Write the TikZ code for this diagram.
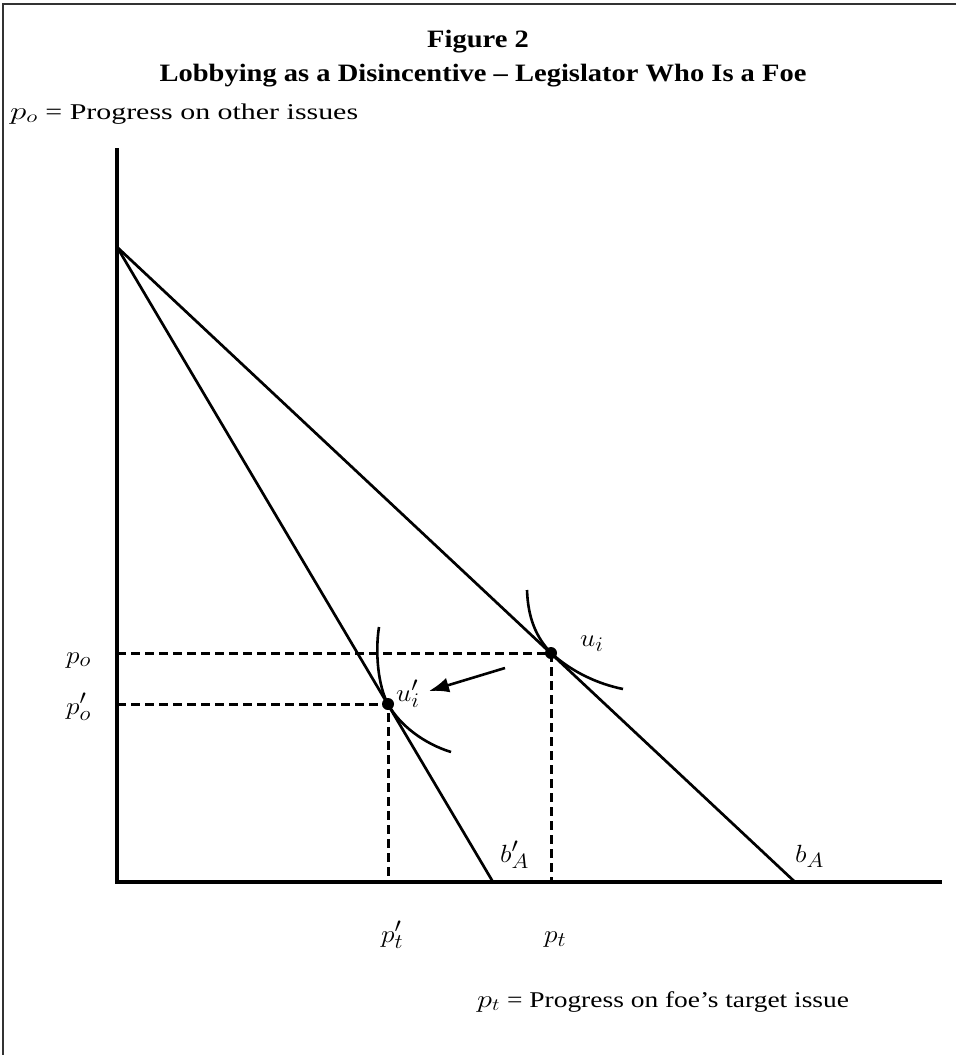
\documentclass[tikz,border=0pt]{standalone}
\usepackage{fontspec}
\setmainfont{Liberation Serif}
\usetikzlibrary{arrows.meta}
\newcommand{\hstretch}[2]{\scalebox{#1}[1]{#2}}
\newcommand{\bigmath}[1]{{\fontsize{27}{30}\selectfont$#1$}}
\tikzset{
  frameline/.style={line width=2.4pt, draw=black!80},
  axisline/.style={line width=3.2pt},
  budget/.style={line width=2.7pt},
  guide/.style={line width=3pt, dash pattern=on 9pt off 5pt},
  indiff/.style={line width=2.6pt},
  dotpt/.style={circle, fill=black, inner sep=0pt, minimum size=12pt},
  lbl/.style={inner sep=0pt, anchor=base west, font=\fontsize{31}{34}\selectfont},
  txt/.style={inner sep=0pt, anchor=base west, font=\fontsize{22.5}{26}\selectfont},
  ttl/.style={inner sep=0pt, anchor=base, font=\fontsize{25}{29}\selectfont\bfseries},
  shiftarrow/.style={line width=2.6pt, -{Latex[length=20pt,width=15pt]}}
}
\begin{document}
\begin{tikzpicture}[x=1pt,y=-1pt]
\useasboundingbox (0,0) rectangle (956,1055);
\fill[white] (0,0) rectangle (956,1055);
\draw[frameline] (956,4) -- (3,4) -- (3,1055);

% titles
\node[ttl] (fig) at (478,47) {\hstretch{1.14}{Figure 2}};
\node[ttl] (sub) at (483,81) {\hstretch{1.14}{Lobbying as a Disincentive – Legislator Who Is a Foe}};
\node[txt] (ylab) at (10,119) {\hstretch{1.33}{\bigmath{p_o} = Progress on other issues}};
\node[txt] (xlab) at (477,1007) {\hstretch{1.22}{\bigmath{p_t} = Progress on foe’s target issue}};

% axes
\coordinate (top) at (117,148);
\coordinate (O) at (117,882);
\coordinate (right) at (942,882);
\draw[axisline] (top) -- (O) -- (right);

% budget lines
\coordinate (A) at (117,247);
\coordinate (bA) at (795,882);
\coordinate (bAp) at (493,882);
\draw[budget] (A) -- (bA);
\draw[budget] (A) -- (bAp);

% tangency points
\coordinate (ui) at (551,653);
\coordinate (uip) at (388,704);
\coordinate (po) at (117,653);
\coordinate (pop) at (117,704);
\coordinate (pt) at (551,882);
\coordinate (ptp) at (388,882);

% guides
\draw[guide] (po) -- (ui) -- (pt);
\draw[guide] (pop) -- (uip) -- (ptp);

% indifference curves
\draw[indiff] (527,590) .. controls (528,618) and (536,637) .. (ui)
              .. controls (572,672) and (598,684) .. (623,689);
\draw[indiff] (379,627) .. controls (375,652) and (378,686) .. (uip)
              .. controls (400,726) and (425,744) .. (451,752);

\node[dotpt] (dui) at (ui) {};
\node[dotpt] (duip) at (uip) {};

% shift arrow
\coordinate (arrS) at (505,668);
\coordinate (arrE) at (429,691);
\draw[shiftarrow] (arrS) -- (arrE);

% labels
\node[lbl] (lpo) at (66,663) {\hstretch{1.1}{$p_o$}};
\node[lbl] (lpop) at (66,714) {\hstretch{1.1}{$p'_o$}};
\node[lbl] (lui) at (580,646) {\hstretch{1.1}{$u_i$}};
\node[lbl] (luip) at (396,701) {\hstretch{1.1}{$u'_i$}};
\node[lbl] (lbAp) at (500,862) {\hstretch{1.1}{$b'_A$}};
\node[lbl] (lbA) at (795,862) {\hstretch{1.1}{$b_A$}};
\node[lbl] (lptp) at (381,942) {\hstretch{1.1}{$p'_t$}};
\node[lbl] (lpt) at (544,942) {\hstretch{1.1}{$p_t$}};
\end{tikzpicture}
\end{document}
